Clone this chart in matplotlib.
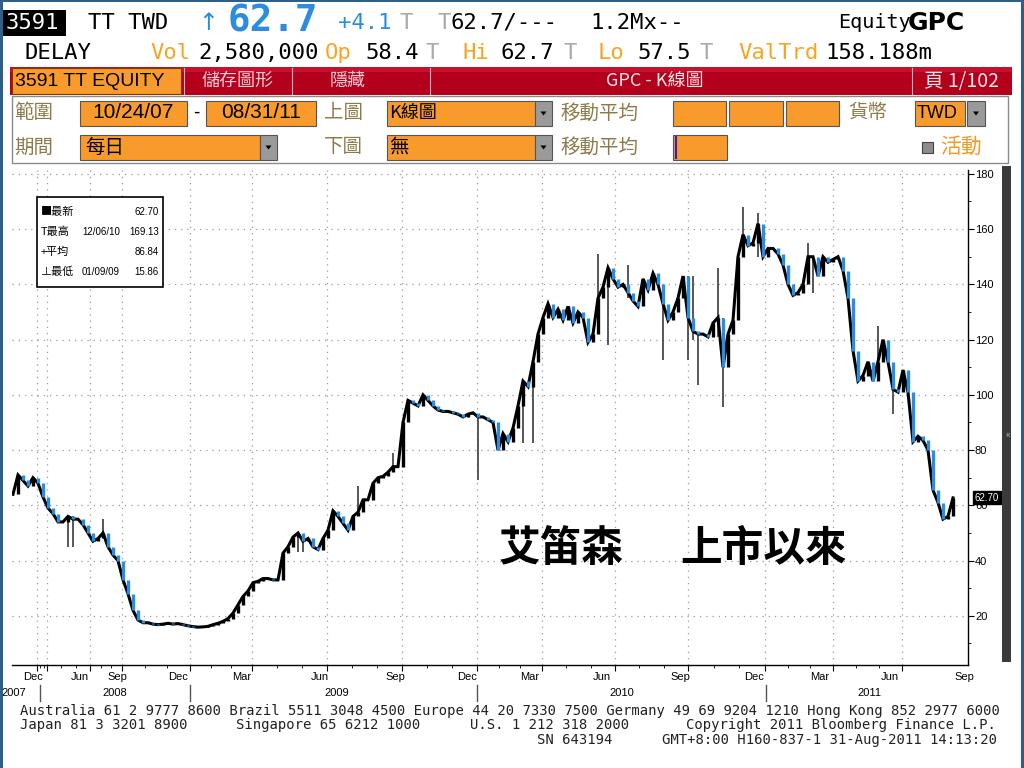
import numpy as np
import matplotlib
matplotlib.use('Agg')
import matplotlib.pyplot as plt
from matplotlib.patches import Rectangle, Polygon

plt.rcParams['font.family'] = ['Noto Sans CJK TC', 'DejaVu Sans']

# daily K-line, sampled closes (TWD), oldest first (10/24/07 .. 08/31/11)
close = [
    64, 71, 69, 67, 70, 68, 63, 59, 57, 54,
    54, 56, 55, 55, 53, 50, 47, 48, 50, 45,
    42, 40, 33, 28, 22, 18.5, 17.5, 17.5, 17, 16.8,
    17, 17.3, 17, 17.2, 16.8, 16.4, 16.1, 15.9, 16, 16.2,
    16.8, 17.3, 18, 19, 21, 24, 27, 29, 32, 32.5,
    33.5, 33.5, 33, 33, 42.7, 45, 48.5, 50, 47, 48,
    45, 44, 48, 51, 58, 56, 53.5, 51, 56, 57.5,
    62, 62, 68, 70, 70.5, 72, 74, 74, 90, 98,
    97, 96, 100, 98, 96, 94.5, 94, 94, 93.5, 93,
    92, 93, 93.5, 92, 92, 91, 90, 80, 86, 83,
    88, 96, 105, 103, 112, 122, 128, 133, 128, 131,
    127, 132, 126, 130, 128, 119, 122, 135, 139, 146,
    142, 139, 140, 137, 134, 132, 142, 138, 144, 140,
    133, 127, 130, 135, 143, 128, 123, 122, 122, 121,
    126, 128, 110, 122, 127, 150, 158, 154, 155, 162,
    150, 153, 153, 151, 147, 140, 136, 137, 140, 150,
    150, 143, 150, 148, 149, 150, 145, 135, 116, 105,
    107, 112, 105, 112, 120, 112, 102, 101, 109, 101,
    83, 85, 83.5, 80, 65.5, 61, 55, 56, 62.7,
]

# long shadows (bar index, low, high)
wick_idx = [11, 12, 18, 57, 58, 69, 76, 93, 102, 104, 117, 119, 123,
            130, 135, 136, 137, 141, 142, 146, 149, 159, 160, 173, 176]
wick_lo = [45, 45, 48, 43, 43, 56, 73, 69, 82.5, 82.6, 133, 118, 135,
           112.6, 112.6, 120, 103.5, 121, 95.6, 150, 150, 140, 137, 110, 93]
wick_hi = [56, 56, 55, 50, 48, 67, 79, 93, 105, 112, 151, 146, 147,
           133, 143, 143, 122, 146, 128, 168, 166, 155, 150, 125, 102]

# x axis (bar index positions)
grid_pos = [4.8, 6.8, 15.4, 21.8, 35.4, 47.8, 62.8, 77.8, 92.8, 105.8,
            120.4, 135, 150.4, 164, 177.8]
month_pos = [4, 13.4, 20.8, 33, 45.8, 61.4, 76.4, 90.8, 103.4, 117.8,
             133.4, 148.2, 161.4, 175.4, 190.2]
month_lab = ['Dec', 'Jun', 'Sep', 'Dec', 'Mar', 'Jun', 'Sep', 'Dec', 'Mar',
             'Jun', 'Sep', 'Dec', 'Mar', 'Jun', 'Sep']
year_pos = [0.2, 20.4, 64.8, 121.8, 171.2]
year_lab = ['2007', '2008', '2009', '2010', '2011']
year_sep = [5.4, 35.4, 92.8, 150.6]
y_ticks = [20, 40, 60, 80, 100, 120, 140, 160, 180]

W, H = 1024, 768
fig = plt.figure(figsize=(10.24, 7.68), dpi=100)

# overlay in pixel coordinates for the terminal chrome
ui = fig.add_axes([0, 0, 1, 1])
ui.set_xlim(0, W)
ui.set_ylim(H, 0)
ui.axis('off')

ORANGE = '#f89b2c'
GOLD = '#8c7b4a'
BLUE = '#2b8ce0'
mono = 'DejaVu Sans Mono'
narrow = ['Liberation Sans Narrow', 'Liberation Sans', 'DejaVu Sans']


def box(x0, y0, x1, y1, fc, ec='none', lw=1, z=1):
    ui.add_patch(Rectangle((x0, y0), x1 - x0, y1 - y0, fc=fc, ec=ec, lw=lw, zorder=z))


def drop(x0, y0, x1, y1):
    box(x0, y0, x1, y1, '#9a9a9a', ec='#555555', lw=0.8, z=2)
    cx, cy = (x0 + x1) / 2, (y0 + y1) / 2
    ui.add_patch(Polygon([(cx - 3, cy - 2), (cx + 3, cy - 2), (cx, cy + 2)],
                         fc='black', zorder=3))


def t(x, y, s, **kw):
    kw.setdefault('va', 'center')
    kw.setdefault('ha', 'left')
    ui.text(x, y, s, **kw)


# header rows
box(3, 10, 66, 36, 'black')
t(6, 23, '3591', color='white', family=mono, fontsize=16)
t(88, 23, 'TT TWD', color='black', family=mono, fontsize=16)
t(198, 23, '↑', color=BLUE, family='DejaVu Sans', fontsize=17)
t(228, 22, '62.7', color=BLUE, family=mono, fontsize=27, fontweight='bold')
t(338, 23, '+4.1', color=BLUE, family=mono, fontsize=16)
t(400, 23, 'T', color='#aaaaaa', family=mono, fontsize=16)
t(437, 23, 'T', color='#aaaaaa', family=mono, fontsize=16)
t(450, 23, '62.7/---', color='black', family=mono, fontsize=16)
t(590, 23, '1.2Mx--', color='black', family=mono, fontsize=16)
t(838, 23, 'Equity', color='black', family=mono, fontsize=14.5)
t(908, 23, 'GPC', color='black', family='DejaVu Sans', fontsize=18, fontweight='bold')

row2 = [(25, 'DELAY', 'black'), (150, 'Vol', '#f5a623'), (198, '2,580,000', 'black'),
        (325, 'Op', '#f5a623'), (365, '58.4', 'black'), (425, 'T', '#aaaaaa'),
        (462, 'Hi', '#f5a623'), (500, '62.7', 'black'), (563, 'T', '#aaaaaa'),
        (598, 'Lo', '#f5a623'), (637, '57.5', 'black'), (700, 'T', '#aaaaaa'),
        (738, 'ValTrd', '#f5a623'), (825, '158.188m', 'black')]
for x, s, c in row2:
    t(x, 53, s, color=c, family=mono, fontsize=16)

# red title bar
box(10, 67, 1012, 95, '#b3001b')
box(10, 67, 1012, 72, '#c8102e')
box(12, 68, 181, 94, ORANGE, ec='#7a3b00', lw=0.8, z=2)
t(15, 81, '3591 TT EQUITY', color='black', family=narrow, fontsize=14)
for xs in [184, 292, 430, 912]:
    ui.plot([xs, xs], [68, 94], color='#e8b0b8', lw=0.8, zorder=3)
t(238, 81, '儲存圖形', ha='center', color='#f3cdd5', fontsize=13)
t(348, 81, '隱藏', ha='center', color='#f3cdd5', fontsize=13)
t(655, 81, 'GPC - K線圖', ha='center', color='#fbe6ea', fontsize=13)
t(962, 81, '頁 1/102', ha='center', color='#fbe6ea', fontsize=14)

# settings panel
box(12, 96, 1008, 163, 'white', ec='#8a8a8a', lw=1)
ya, yb = 113, 147
t(14, ya, '範圍', color=GOLD, fontsize=14)
box(80, 101, 187, 126, ORANGE, ec='#555555', lw=0.8, z=2)
t(133, ya, '10/24/07', ha='center', color='black', family=narrow, fontsize=15, zorder=3)
t(193, ya, '-', color='black', fontsize=13)
box(206, 101, 316, 126, ORANGE, ec='#555555', lw=0.8, z=2)
t(261, ya, '08/31/11', ha='center', color='black', family=narrow, fontsize=15, zorder=3)
t(324, ya, '上圖', color=GOLD, fontsize=14)
box(387, 101, 535, 126, ORANGE, ec='#555555', lw=0.8, z=2)
t(389, ya, 'K線圖', color='black', fontsize=13, zorder=3)
drop(535, 101, 552, 126)
t(560, ya, '移動平均', color=GOLD, fontsize=14)
for x0, x1 in [(673, 726), (729, 783), (786, 839)]:
    box(x0, 101, x1, 126, ORANGE, ec='#555555', lw=0.8, z=2)
t(848, ya, '貨幣', color=GOLD, fontsize=14)
box(915, 101, 965, 126, ORANGE, ec='#555555', lw=0.8, z=2)
t(917, ya, 'TWD', color='black', family=narrow, fontsize=13, zorder=3)
drop(967, 101, 985, 126)

t(14, yb, '期間', color=GOLD, fontsize=14)
box(80, 135, 260, 160, ORANGE, ec='#555555', lw=0.8, z=2)
t(85, yb, '每日', color='black', fontsize=14, zorder=3)
drop(260, 135, 277, 160)
t(324, yb, '下圖', color=GOLD, fontsize=14)
box(387, 135, 535, 160, ORANGE, ec='#555555', lw=0.8, z=2)
t(389, yb, '無', color='black', fontsize=14, zorder=3)
drop(535, 135, 552, 160)
t(560, yb, '移動平均', color=GOLD, fontsize=14)
box(673, 135, 727, 160, ORANGE, ec='#555555', lw=0.8, z=2)
ui.plot([676, 676], [137, 158], color='#3020c0', lw=1.5, zorder=3)
box(922, 142, 933, 153, '#8c8c8c', ec='#444444', lw=0.8, z=2)
t(940, yb, '活動', color='#f39a2b', fontsize=15)

# right-hand scroll bar and frame
box(1002, 166, 1011, 662, '#3a3a3a', z=2)
t(1005, 435, '«', color='#bbbbbb', fontsize=7)
box(0, 0, 3, H, '#2d5f8a', z=5)
box(0, 0, W, 2, '#2d5f8a', z=5)
box(W - 3, 0, W, H, '#2d5f8a', z=5)

# footer
foot = 'DejaVu Sans Mono'
fc = '#222222'
t(20, 711, 'Australia 61 2 9777 8600 Brazil 5511 3048 4500 Europe 44 20 7330 7500 '
  'Germany 49 69 9204 1210 Hong Kong 852 2977 6000', family=foot, fontsize=10, color=fc)
t(20, 725, 'Japan 81 3 3201 8900', family=foot, fontsize=10, color=fc)
t(236, 725, 'Singapore 65 6212 1000', family=foot, fontsize=10, color=fc)
t(470, 725, 'U.S. 1 212 318 2000', family=foot, fontsize=10, color=fc)
t(686, 725, 'Copyright 2011 Bloomberg Finance L.P.', family=foot, fontsize=10, color=fc)
t(537, 740, 'SN 643194', family=foot, fontsize=10, color=fc)
t(662, 740, 'GMT+8:00 H160-837-1 31-Aug-2011 14:13:20', family=foot, fontsize=10, color=fc)

# ---- price chart ----
ax = fig.add_axes([12 / W, 1 - 665 / H, 956 / W, 495 / H])
ax.set_facecolor('none')
n = len(close)
x = np.arange(n)
c = np.array(close, dtype=float)
o = np.concatenate([[c[0]], c[:-1]])

ax.set_xlim(-0.2, 191)
ax.set_ylim(2.2, 181.4)

for yv in y_ticks:
    ax.axhline(yv, color='#9a9a9a', lw=0.9, ls=(0, (1, 4)), zorder=1)
for xv in grid_pos:
    ax.axvline(xv, color='#9a9a9a', lw=0.9, ls=(0, (1, 4)), zorder=1)

ax.vlines(wick_idx, wick_lo, wick_hi, color='#4a4a4a', lw=1.3, zorder=2)
ax.plot(x, c, color='black', lw=2.2, zorder=3, solid_joinstyle='miter')
up = c >= o
ax.vlines(x[up], o[up], c[up], color='black', lw=2.4, zorder=4)
ax.vlines(x[~up], o[~up], c[~up], color=BLUE, lw=2.4, zorder=4)

for side in ['left', 'top']:
    ax.spines[side].set_visible(False)
ax.spines['right'].set_linewidth(1)
ax.spines['bottom'].set_linewidth(1)

ax.yaxis.tick_right()
ax.set_yticks(y_ticks)
ax.set_yticklabels([str(v) for v in y_ticks], family=narrow, fontsize=8)
ax.set_yticks(np.arange(10, 181, 10), minor=True)
ax.tick_params(axis='y', which='major', direction='out', length=4, pad=1)
ax.tick_params(axis='y', which='minor', direction='out', length=2)

ax.set_xticks(grid_pos)
ax.set_xticklabels([])
minor = []
for a, b in zip(grid_pos[:-1], grid_pos[1:]):
    minor += list(np.linspace(a, b, 4)[1:-1])
ax.set_xticks(minor, minor=True)
ax.tick_params(axis='x', which='major', direction='out', length=4)
ax.tick_params(axis='x', which='minor', direction='out', length=2.5)

for p, s in zip(month_pos, month_lab):
    ax.text(p, -0.025, s, transform=ax.get_xaxis_transform(), ha='center', va='center',
            family=narrow, fontsize=8, clip_on=False)
for p, s in zip(year_pos, year_lab):
    ax.text(p, -0.057, s, transform=ax.get_xaxis_transform(), ha='center', va='center',
            family=narrow, fontsize=8, clip_on=False)
for p in year_sep:
    ax.plot([p, p], [-0.04, -0.072], transform=ax.get_xaxis_transform(), color='#555555',
            lw=1, clip_on=False)

# last price tag
ax.annotate('62.70', xy=(1.0, c[-1]), xycoords=('axes fraction', 'data'),
            xytext=(5, 0), textcoords='offset points', ha='left', va='center',
            family=narrow, fontsize=7, color='white', zorder=6,
            bbox=dict(boxstyle='square,pad=0.15', fc='black', ec='black'))

# legend block
lg = Rectangle((37, 197), 126, 90, fc='white', ec='black', lw=1.2, zorder=6)
ui.add_patch(lg)
ui.set_zorder(ax.get_zorder() + 1)
ui.patch.set_alpha(0)
leg_rows = [('■最新', '', '62.70'), ('T最高', '12/06/10', '169.13'),
            ('+平均', '', '86.84'), ('⊥最低', '01/09/09', '15.86')]
for i, (a, d, v) in enumerate(leg_rows):
    yy = 212 + i * 20
    ui.text(41, yy, a, va='center', fontsize=8, zorder=7,
            family=['Noto Sans CJK TC', 'DejaVu Sans'])
    if d:
        ui.text(82, yy, d, va='center', fontsize=7, family=narrow, zorder=7)
    ui.text(159, yy, v, va='center', ha='right', fontsize=7, family=narrow, zorder=7)

# annotation
ui.text(561, 549, '艾笛森', ha='center', va='center', fontsize=30, fontweight='bold',
        color='black', zorder=7)
ui.text(763, 549, '上市以來', ha='center', va='center', fontsize=30, fontweight='bold',
        color='black', zorder=7)

fig.savefig('out.png', dpi=100)
